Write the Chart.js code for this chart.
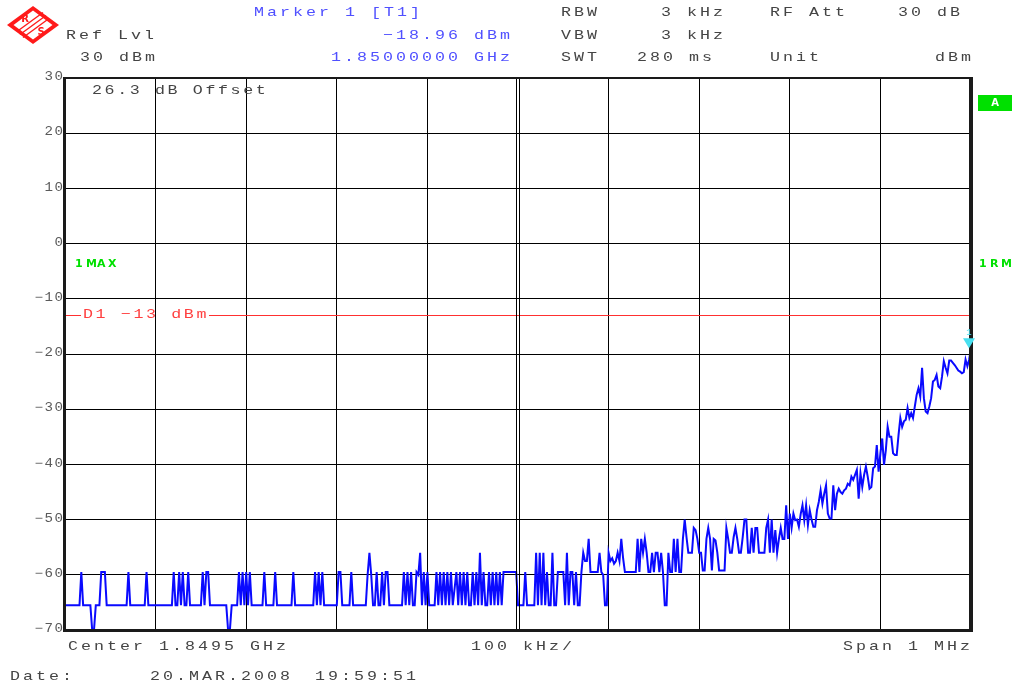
<!DOCTYPE html>
<html>
<head>
<meta charset="utf-8">
<script src="https://cdn.jsdelivr.net/npm/chart.js@4.4.1/dist/chart.umd.min.js"></script>
<style>
  html, body { margin: 0; background: #fff; }
  #wrap { width: 1015px; height: 689px; position: relative; }
</style>
</head>
<body>
<div id="wrap"><canvas id="spectrum"></canvas></div>
<script>
/* Spectrum analyzer screen shot, 1.849 - 1.850 GHz, max-hold trace.
   Frequencies are kHz above the start (1.8490 GHz), levels in dBm. */

const FREQ_TICKS  = [0, 100, 200, 300, 400, 500, 600, 700, 800, 900, 1000];
const LEVEL_TICKS = [30, 20, 10, 0, -10, -20, -30, -40, -50, -60, -70];

const DISPLAY_LINE = -13;          // D1 limit line
const MARKER_FREQ  = 1000;         // marker 1 at 1.85000000 GHz
const MARKER_LEVEL = -18.96;

// noise floor part, 0 - 500 kHz
const floorTrace = [
  [0,-65.5],[16,-65.5],[18,-59.5],[20,-65.5],[28,-65.5],[30,-70],[32,-70],[34,-65.5],[38,-65.5],[40,-59.5],
  [42,-59.5],[44,-59.5],[46,-65.5],[68,-65.5],[70,-59.5],[72,-65.5],[88,-65.5],[90,-59.5],[92,-65.5],[118,-65.5],
  [120,-59.5],[122,-65.5],[124,-65.5],[126,-59.5],[128,-65.5],[130,-59.5],[132,-65.5],[134,-65.5],[136,-59.5],[138,-65.5],
  [150,-65.5],[152,-59.5],[154,-65.5],[156,-59.5],[158,-59.5],[160,-65.5],[178,-65.5],[180,-70],[182,-70],[184,-65.5],
  [190,-65.5],[192,-59.5],[194,-65.5],[196,-59.5],[198,-65.5],[200,-59.5],[202,-65.5],[204,-59.5],[206,-65.5],[218,-65.5],
  [220,-59.5],[222,-65.5],[230,-65.5],[232,-59.5],[234,-65.5],[250,-65.5],[252,-59.5],[254,-65.5],[274,-65.5],[276,-59.5],
  [278,-65.5],[280,-59.5],[282,-65.5],[284,-59.5],[286,-65.5],[300,-65.5],[302,-59.5],[304,-59.5],[306,-65.5],[314,-65.5],
  [316,-59.5],[318,-65.5],[332,-65.5],[334,-60],[336,-56],[338,-60],[340,-65.5],[342,-65.5],[344,-59.5],[346,-65.5],
  [348,-65.5],[350,-59.5],[352,-65.5],[354,-59.5],[356,-59.5],[358,-65.5],[372,-65.5],[374,-59.5],[376,-65.5],[378,-59.5],
  [380,-65.5],[382,-59.5],[384,-65.5],[386,-65.5],[388,-59.5],[390,-60],[392,-56],[394,-65.5],[396,-59.5],[398,-65.5],
  [400,-59.5],[402,-65.5],[408,-65.5],[410,-59.5],[412,-65.5],[414,-59.5],[416,-65.5],[418,-59.5],[420,-65.5],[422,-59.5],
  [424,-65.5],[426,-59.5],[428,-65.5],[432,-59.5],[434,-65.5],[436,-59.5],[438,-65.5],[440,-59.5],[442,-65.5],[444,-59.5],
  [446,-65.5],[448,-65.5],[450,-59.5],[452,-65.5],[454,-59.5],[456,-65.5],[458,-56],[460,-65.5],[462,-59.5],[464,-65.5],
  [466,-65.5],[468,-59.5],[470,-65.5],[472,-59.5],[474,-65.5],[476,-59.5],[478,-65.5],[480,-59.5],[482,-65.5],[484,-59.5],
  [498,-59.5]
];

// toggling part, 500 - 664 kHz
const midTrace = [
  [500,-65.5],[506,-65.5],[508,-59.5],[510,-65.5],[518,-65.5],[520,-56],[522,-65.5],[524,-56],[526,-65.5],[528,-56],
  [530,-65.5],[532,-59.5],[534,-65.5],[536,-65.5],[538,-56],[540,-65.5],[542,-65.5],[544,-59.5],[550,-59.5],[552,-65.5],
  [554,-56],[556,-65.5],[558,-59.5],[560,-59.5],[562,-65.5],[564,-59.5],[566,-65.5],[568,-65.5],[570,-59.5],[572,-56],
  [574,-57.5],[576,-57.5],[578,-53.5],[580,-59.5],[588,-59.5],[590,-56],[592,-59.5],[594,-60],[596,-65.5],[598,-65.5],
  [600,-56],[602,-57.5],[604,-57],[606,-58],[608,-57.5],[610,-56],[612,-57.5],[614,-53.5],[616,-57],[618,-59.5],
  [630,-59.5],[632,-53.5],[634,-59.5],[636,-53.5],[638,-56],[640,-53.5],[642,-56],[644,-59.5],[646,-59.5],[648,-56],
  [650,-59.5],[652,-56],[654,-56],[656,-59.5],[658,-56],[660,-59.5],[662,-65.5],[664,-65.5]
];

// rising edge, 666 - 1000 kHz
const riseTrace = [
  [666,-56],[668,-59.5],[670,-59.5],[672,-53.5],[674,-59.5],[676,-53.5],[678,-59.5],[680,-59.5],[682,-53.5],[684,-50],
  [686,-53.2],[688,-56],[690,-56],[692,-56],[694,-51.5],[696,-51.9],[698,-53.5],[700,-56],[702,-56],[704,-59.2],
  [706,-59.2],[708,-53.5],[710,-51.5],[712,-53.5],[714,-59.2],[716,-53.5],[718,-53.8],[720,-56],[722,-59.2],[724,-59.2],
  [726,-59.2],[728,-59.2],[730,-51.5],[732,-53.5],[734,-56],[736,-56],[738,-53.2],[740,-51.5],[742,-53.5],[744,-56],
  [746,-56],[748,-53.2],[750,-50],[752,-50],[754,-56],[756,-56],[758,-51.5],[760,-56],[762,-51.5],[764,-51.5],
  [766,-56],[768,-56],[770,-56],[772,-56],[774,-51.5],[776,-50],[778,-56],[780,-50],[782,-56],[784,-51.9],
  [786,-56],[788,-53.5],[790,-51.5],[792,-53.5],[794,-53.5],[796,-47.4],[798,-53.5],[800,-48.9],[802,-51.5],[804,-48.9],
  [806,-50.1],[808,-50],[810,-51.3],[812,-49],[814,-47.4],[816,-50.1],[818,-47.4],[820,-51],[822,-48.3],[824,-50],
  [826,-51.3],[828,-51.3],[830,-48.3],[832,-46.8],[834,-44.7],[836,-47.1],[838,-45.3],[840,-43.8],[842,-48.9],[844,-49.8],
  [846,-49.8],[848,-43.8],[850,-48.3],[852,-45.3],[854,-44.4],[856,-45],[858,-45.3],[860,-44.7],[862,-44.4],[864,-43.5],
  [866,-43.8],[868,-42.2],[870,-42.8],[872,-41.9],[874,-41],[876,-46.2],[878,-41.6],[880,-44.1],[882,-41.9],[884,-40.4],
  [886,-42.2],[888,-44.4],[890,-44.1],[892,-40.7],[894,-40.4],[896,-36.5],[898,-41.3],[900,-38],[902,-35.3],[904,-40.1],
  [906,-37.4],[908,-33.2],[910,-35],[912,-35],[914,-38],[916,-38.3],[918,-38.3],[920,-34.7],[922,-31.6],[924,-33.2],
  [926,-32.2],[928,-31.9],[930,-29.8],[932,-31.6],[934,-30.7],[936,-31.6],[938,-29.5],[940,-27.4],[942,-26.2],[944,-27.7],
  [946,-22.5],[948,-28],[950,-30.4],[952,-30.7],[954,-29.5],[956,-28],[958,-25],[960,-24.7],[962,-23.8],[964,-25.9],
  [966,-26.2],[968,-24.1],[970,-21.3],[972,-22.5],[974,-23.5],[976,-21.2],[978,-21.2],[980,-21.6],[982,-22],[984,-22.5],
  [986,-23],[988,-23.2],[990,-23.5],[992,-23.3],[994,-21],[996,-22.2],[998,-21],[1000,-18.96]
];

const TEXT_GRAY = '#444';
const TEXT_BLUE = '#5050ff';
const MONO      = "'Liberation Mono', 'DejaVu Sans Mono', monospace";

// draw a string one glyph at a time on a fixed pitch, glyphs stretched
// sideways a little like the instrument's wide Courier font
function spaced(ctx, str, x, y, pitch, stretch = 1.28) {
  for (let i = 0; i < str.length; i++) {
    ctx.save();
    ctx.translate(x + i * pitch, y);
    ctx.scale(stretch, 1);
    ctx.fillText(str[i], 0, 0);
    ctx.restore();
  }
}

function drawLogo(ctx) {
  ctx.save();
  ctx.fillStyle = '#ff1a1a';
  ctx.beginPath();
  ctx.moveTo(7, 25); ctx.lineTo(33, 6); ctx.lineTo(59, 25); ctx.lineTo(33, 44);
  ctx.closePath(); ctx.fill();
  ctx.fillStyle = '#fff';
  ctx.beginPath();
  ctx.moveTo(13.5, 25); ctx.lineTo(33, 10.5); ctx.lineTo(52.5, 25); ctx.lineTo(33, 39.5);
  ctx.closePath(); ctx.fill();
  ctx.strokeStyle = '#ff1a1a';
  ctx.lineWidth = 1.4;
  [-3, 0, 3].forEach(o => {
    ctx.beginPath();
    ctx.moveTo(20 + o, 34.5 + o); ctx.lineTo(46 + o, 15.5 + o);
    ctx.stroke();
  });
  ctx.fillStyle = '#ff1a1a';
  ctx.font = "bold 10px 'DejaVu Sans'";
  ctx.textAlign = 'center'; ctx.textBaseline = 'middle';
  ctx.fillText('R', 25, 19);
  ctx.fillText('S', 41, 32);
  ctx.restore();
}

const analyzerPlugin = {
  id: 'analyzerScreen',
  beforeDatasetsDraw(chart) {
    const { ctx, chartArea: a, scales: { y } } = chart;
    const py = Math.round(y.getPixelForValue(DISPLAY_LINE)) + 0.5;
    ctx.save();
    ctx.strokeStyle = '#ff3030';
    ctx.lineWidth = 1;
    ctx.beginPath();
    ctx.moveTo(a.left, py); ctx.lineTo(81, py);
    ctx.moveTo(209, py);    ctx.lineTo(a.right, py);
    ctx.stroke();
    ctx.fillStyle = '#ff4040';
    ctx.font = '13px ' + MONO;
    ctx.textBaseline = 'middle';
    spaced(ctx, 'D1 \u221213 dBm', 83, py - 1, 12.6);
    ctx.restore();
  },
  afterDatasetsDraw(chart) {
    const { ctx, chartArea: a, scales: { x, y } } = chart;
    ctx.save();
    // centre line is doubled on the instrument screen
    const cx = Math.round(x.getPixelForValue(500));
    ctx.strokeStyle = '#000';
    ctx.lineWidth = 1;
    ctx.beginPath();
    ctx.moveTo(cx - 1.5, a.top); ctx.lineTo(cx - 1.5, a.bottom);
    ctx.moveTo(cx + 1.5, a.top); ctx.lineTo(cx + 1.5, a.bottom);
    ctx.stroke();
    // frame
    ctx.fillStyle = '#1a1a1a';
    ctx.fillRect(a.left - 2, a.top - 1, a.right - a.left + 4, 2);
    ctx.fillRect(a.left - 2, a.bottom - 1, a.right - a.left + 4, 3);
    ctx.fillRect(a.left - 2, a.top - 1, 3, a.bottom - a.top + 3);
    ctx.fillRect(a.right - 2, a.top - 1, 4, a.bottom - a.top + 3);
    // marker 1
    const mx = x.getPixelForValue(MARKER_FREQ) - 2;
    const my = y.getPixelForValue(MARKER_LEVEL);
    ctx.fillStyle = '#48e0f0';
    ctx.beginPath();
    ctx.moveTo(mx - 6, my - 10); ctx.lineTo(mx + 6, my - 10); ctx.lineTo(mx, my);
    ctx.closePath(); ctx.fill();
    ctx.font = '9px ' + MONO;
    ctx.textAlign = 'center'; ctx.textBaseline = 'middle';
    ctx.fillText('1', mx, my - 16);
    ctx.restore();
  },
  afterDraw(chart) {
    const { ctx, scales: { y } } = chart;
    ctx.save();
    ctx.textBaseline = 'middle';
    ctx.textAlign = 'left';
    ctx.font = '13px ' + MONO;
    const P = 13;

    ctx.fillStyle = TEXT_BLUE;
    spaced(ctx, 'Marker 1 [T1]', 254, 13, P);
    spaced(ctx, '\u221218.96 dBm', 383, 36, P);
    spaced(ctx, '1.85000000 GHz', 331, 58, P);

    ctx.fillStyle = TEXT_GRAY;
    spaced(ctx, 'Ref Lvl', 66, 36, P);
    spaced(ctx, '30 dBm', 80, 58, P);
    spaced(ctx, 'RBW', 561, 13, P);
    spaced(ctx, '3 kHz', 661, 13, P);
    spaced(ctx, 'RF Att', 770, 13, P);
    spaced(ctx, '30 dB', 898, 13, P);
    spaced(ctx, 'VBW', 561, 36, P);
    spaced(ctx, '3 kHz', 661, 36, P);
    spaced(ctx, 'SWT', 561, 58, P);
    spaced(ctx, '280 ms', 637, 58, P);
    spaced(ctx, 'Unit', 770, 58, P);
    spaced(ctx, 'dBm', 935, 58, P);
    spaced(ctx, '26.3 dB Offset', 92, 91, 12.6);
    spaced(ctx, 'Center 1.8495 GHz', 68, 647, P);
    spaced(ctx, '100 kHz/', 471, 647, P);
    spaced(ctx, 'Span 1 MHz', 843, 647, P);
    spaced(ctx, 'Date:', 10, 677, P);
    spaced(ctx, '20.MAR.2008', 150, 677, P);
    spaced(ctx, '19:59:51', 315, 677, P);

    // level axis labels
    ctx.fillStyle = '#5a5a5a';
    ctx.font = '12px ' + MONO;
    LEVEL_TICKS.forEach(v => {
      const s = String(v).replace('-', '\u2212');
      const py = y.getPixelForValue(v) - 1;
      spaced(ctx, s, 63 - 8.5 - (s.length - 1) * 10, py, 10, 1.18);
    });

    // trace / detector flags
    ctx.fillStyle = '#00e000';
    ctx.font = "bold 10px 'DejaVu Sans'";
    spaced(ctx, '1MAX', 75, 264, 11, 1.1);
    spaced(ctx, '1RM', 979, 264, 11, 1.1);
    ctx.fillRect(978, 95, 34, 16);
    ctx.fillStyle = '#fff';
    ctx.textAlign = 'center';
    ctx.fillText('A', 995, 103);
    ctx.restore();

    drawLogo(ctx);
  }
};

const tracePoints = floorTrace.concat(midTrace, riseTrace).map(([f, l]) => ({ x: f, y: l }));

new Chart(document.getElementById('spectrum'), {
  type: 'line',
  data: {
    datasets: [{
      label: '1MAX',
      data: tracePoints,
      borderColor: '#0a0aff',
      borderWidth: 2,
      pointRadius: 0,
      tension: 0,
      fill: false,
    }]
  },
  options: {
    responsive: true,
    maintainAspectRatio: false,
    animation: false,
    layout: { padding: { left: 65, top: 78, right: 44, bottom: 59 } },
    scales: {
      x: {
        type: 'linear',
        min: FREQ_TICKS[0], max: FREQ_TICKS[FREQ_TICKS.length - 1],
        afterBuildTicks: s => { s.ticks = FREQ_TICKS.map(v => ({ value: v })); },
        afterFit: s => { s.height = 0; },
        ticks: { display: false },
        border: { display: false },
        grid: {
          drawTicks: false,
          lineWidth: 1,
          color: c => (c.tick && c.tick.value === 500) ? 'rgba(0,0,0,0)' : '#000',
        },
      },
      y: {
        type: 'linear',
        min: LEVEL_TICKS[LEVEL_TICKS.length - 1], max: LEVEL_TICKS[0],
        afterBuildTicks: s => { s.ticks = LEVEL_TICKS.map(v => ({ value: v })); },
        afterFit: s => { s.width = 0; },
        ticks: { display: false },
        border: { display: false },
        grid: { drawTicks: false, lineWidth: 1, color: '#000' },
      }
    },
    plugins: {
      legend: { display: false },
      tooltip: { enabled: false },
    }
  },
  plugins: [analyzerPlugin]
});
</script>
</body>
</html>
